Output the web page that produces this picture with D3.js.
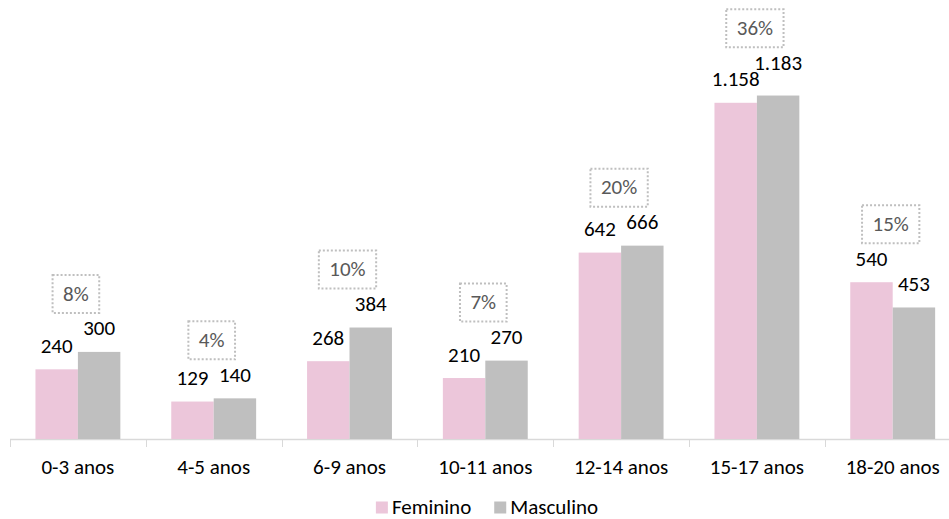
<!DOCTYPE html>
<html>
<head>
<meta charset="utf-8">
<script src="https://cdn.jsdelivr.net/npm/d3@7"></script>
<style>
  html, body { margin: 0; padding: 0; background: #fff; }
  svg { display: block; font-family: Carlito, Lato, "Open Sans", sans-serif; }
</style>
</head>
<body>
<svg id="chart" width="949" height="519"></svg>
<script>
const categories = ["0-3 anos", "4-5 anos", "6-9 anos", "10-11 anos", "12-14 anos", "15-17 anos", "18-20 anos"];
const seriesNames = ["Feminino", "Masculino"];
const feminino = [240, 129, 268, 210, 642, 1158, 540];
const masculino = [300, 140, 384, 270, 666, 1183, 453];
const percentages = [8, 4, 10, 7, 20, 36, 15];

const colors = { Feminino: "#ecc6da", Masculino: "#bfbfbf" };
const fontSize = 21;
const capH = 13.5;

const svg = d3.select("#chart");
const baseY = 439;

const x = d3.scaleBand().domain(categories).range([10, 960.6]).paddingInner(0).paddingOuter(0);
const x1 = d3.scaleBand().domain(seriesNames).range([0, x.bandwidth()]).paddingInner(0).paddingOuter(0.6);
const y = d3.scaleLinear().domain([0, 1200]).range([baseY, 90.6]);

const locale = d3.formatLocale({ decimal: ",", thousands: ".", grouping: [3], currency: ["R$", ""] });
const fmt = locale.format(",d");

const rows = categories.map((c, i) => ({
  cat: c,
  pct: percentages[i],
  vals: [{ s: "Feminino", v: feminino[i] }, { s: "Masculino", v: masculino[i] }]
}));

// Axis line & boundary ticks
const ax = svg.append("g");
ax.append("line")
  .attr("x1", x.range()[0]).attr("x2", 949)
  .attr("y1", baseY + 0.5).attr("y2", baseY + 0.5)
  .attr("stroke", "#d9d9d9").attr("stroke-width", 1.5);
const tickPos = categories.map(c => x(c)).concat([x.range()[1]]);
ax.selectAll("line.tick").data(tickPos).join("line")
  .attr("class", "tick")
  .attr("x1", d => Math.round(d) + 0.5).attr("x2", d => Math.round(d) + 0.5)
  .attr("y1", baseY).attr("y2", baseY + 8)
  .attr("stroke", "#d9d9d9").attr("stroke-width", 1);

// Category labels via d3 axis
const xAxis = svg.append("g")
  .attr("transform", `translate(0,${baseY})`)
  .call(d3.axisBottom(x).tickSize(0).tickPadding(20));
xAxis.select(".domain").remove();
xAxis.selectAll("text")
  .attr("font-size", fontSize)
  .attr("font-family", "Carlito, Lato, 'Open Sans', sans-serif")
  .attr("fill", "#000");

// Bars
const groups = svg.selectAll("g.grp").data(rows).join("g")
  .attr("class", "grp")
  .attr("transform", d => `translate(${x(d.cat)},0)`);

groups.selectAll("rect").data(d => d.vals).join("rect")
  .attr("x", d => x1(d.s))
  .attr("width", x1.bandwidth())
  .attr("y", d => y(d.v))
  .attr("height", d => baseY - y(d.v))
  .attr("fill", d => colors[d.s]);

// Value labels with simple overlap avoidance
groups.each(function (d) {
  const g = d3.select(this);
  const labels = d.vals.map(v => ({
    s: v.s, v: v.v,
    cx: x1(v.s) + x1.bandwidth() / 2,
    base: y(v.v) - 16.5
  }));
  const texts = g.selectAll("text.val").data(labels).join("text")
    .attr("class", "val")
    .attr("x", l => l.cx)
    .attr("text-anchor", "middle")
    .attr("font-size", fontSize)
    .attr("fill", "#000")
    .text(l => fmt(l.v));
  const w = [];
  texts.each(function () { w.push(this.getComputedTextLength()); });
  const gapX = labels[1].cx - labels[0].cx;
  if ((w[0] + w[1]) / 2 + 2 > gapX && Math.abs(labels[0].base - labels[1].base) < capH + 3) {
    const hi = labels[0].base < labels[1].base ? 0 : 1;
    const lo = 1 - hi;
    labels[hi].base = labels[lo].base - (capH + 3);
  }
  texts.attr("y", l => l.base);
  d.topText = d3.min(labels, l => l.base) - capH;
});

// Percentage boxes
groups.each(function (d) {
  const g = d3.select(this);
  const cx = x.bandwidth() / 2 - 2;
  const bh = 38;
  const bottom = d.topText - 9;
  const t = g.append("text")
    .attr("x", cx)
    .attr("y", bottom - bh / 2 + capH / 2)
    .attr("text-anchor", "middle")
    .attr("font-size", fontSize)
    .attr("fill", "#595959")
    .text(d.pct + "%");
  const tw = t.node().getComputedTextLength();
  const bw = tw + 21;
  g.insert("rect", "text")
    .attr("x", cx - bw / 2)
    .attr("y", bottom - bh)
    .attr("width", bw)
    .attr("height", bh)
    .attr("fill", "none")
    .attr("stroke", "#bfbfbf")
    .attr("stroke-width", 2)
    .attr("stroke-dasharray", "2 2");
});

// Legend
const legend = svg.append("g");
const items = legend.selectAll("g").data(seriesNames).join("g");
items.append("rect").attr("width", 12).attr("height", 12).attr("y", 501.5)
  .attr("fill", d => colors[d]);
items.append("text").attr("x", 16).attr("y", 513.5)
  .attr("font-size", fontSize).attr("fill", "#000").text(d => d);
let xpos = 0;
const positions = [];
items.each(function () {
  positions.push(xpos);
  xpos += 16 + d3.select(this).select("text").node().getComputedTextLength() + 23;
});
const totalW = xpos - 23;
const startX = 487 - totalW / 2;
items.attr("transform", (d, i) => `translate(${startX + positions[i]},0)`);
</script>
</body>
</html>
